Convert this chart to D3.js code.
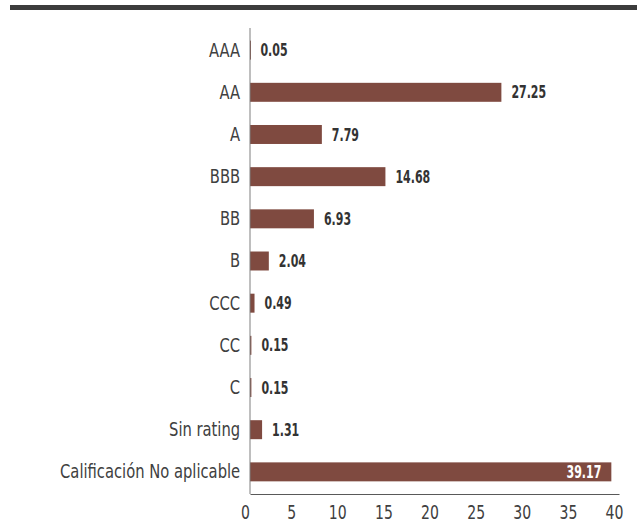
<!DOCTYPE html>
<html>
  <head>
    <meta charset="utf-8" />
    <style>
      body{
        margin: 0;
        background: white;
        font-family: 'DejaVu Sans Condensed', sans-serif;
      }
    </style>
  </head>
  <body>
    <script src="https://d3js.org/d3.v7.min.js"></script>
    <svg id="chart"></svg>
    <script>
      var categories = ["AAA", "AA", "A", "BBB", "BB", "B", "CCC", "CC", "C", "Sin rating", "Calificación No aplicable"];
      var values = [0.05, 27.25, 7.79, 14.68, 6.93, 2.04, 0.49, 0.15, 0.15, 1.31, 39.17];
      var tickValues = [0, 5, 10, 15, 20, 25, 30, 35, 40];

      var width = 642;
      var height = 532;
      var font = "'DejaVu Sans Condensed', sans-serif";

      var svg = d3.select("#chart")
        .attr("width", width)
        .attr("height", height);

      // thick rule on top
      svg.append("rect")
        .attr("x", 10)
        .attr("y", 5)
        .attr("width", 627)
        .attr("height", 5)
        .attr("fill", "#3c3c3c");

      var x = d3.scaleLinear().domain([0, 40]).range([250, 619]);
      var y = d3.scaleBand().domain(categories).range([28, 494]).paddingInner(0.55).paddingOuter(0.3);

      var data = categories.map(function (c, i) {
        return { name: c, value: values[i] };
      });

      svg.selectAll(".bar")
        .data(data)
        .enter()
        .append("rect")
        .attr("class", "bar")
        .attr("x", x(0))
        .attr("y", function (d) { return y(d.name); })
        .attr("width", function (d) { return Math.max(x(d.value) - x(0), 1); })
        .attr("height", y.bandwidth())
        .attr("fill", "#7f4a40");

      // value labels (condensed by a horizontal scale)
      svg.selectAll(".val")
        .data(data)
        .enter()
        .append("text")
        .attr("class", "val")
        .attr("transform", function (d) {
          var tx = d.value > 35 ? x(d.value) - 10 : x(d.value) + 10;
          return "translate(" + tx + "," + (y(d.name) + y.bandwidth() / 2) + ") scale(0.72,1)";
        })
        .attr("dy", "0.36em")
        .attr("text-anchor", function (d) { return d.value > 35 ? "end" : "start"; })
        .attr("font-size", 17)
        .attr("font-weight", "bold")
        .attr("font-family", font)
        .attr("fill", function (d) { return d.value > 35 ? "white" : "#333333"; })
        .text(function (d) { return d.value.toFixed(2); });

      // y axis
      var yAxis = svg.append("g")
        .attr("transform", "translate(" + x(0) + ",0)")
        .call(d3.axisLeft(y).tickSize(0).tickPadding(12));
      yAxis.select(".domain").attr("stroke", "#7f7f7f").attr("d", "M0,28V494");
      yAxis.selectAll("text")
        .attr("font-size", 20)
        .attr("font-family", font)
        .attr("fill", "#404040")
        .attr("transform", "scale(0.82,1)");

      // x axis
      var xAxis = svg.append("g")
        .attr("transform", "translate(0,494)")
        .call(d3.axisBottom(x).tickValues(tickValues).tickSize(0).tickPadding(11));
      xAxis.select(".domain").attr("stroke", "#595959");
      xAxis.selectAll("text")
        .attr("font-size", 20)
        .attr("font-family", font)
        .attr("fill", "#404040")
        .attr("transform", "translate(-5,0) scale(0.78,1)");
    </script>
  </body>
</html>
